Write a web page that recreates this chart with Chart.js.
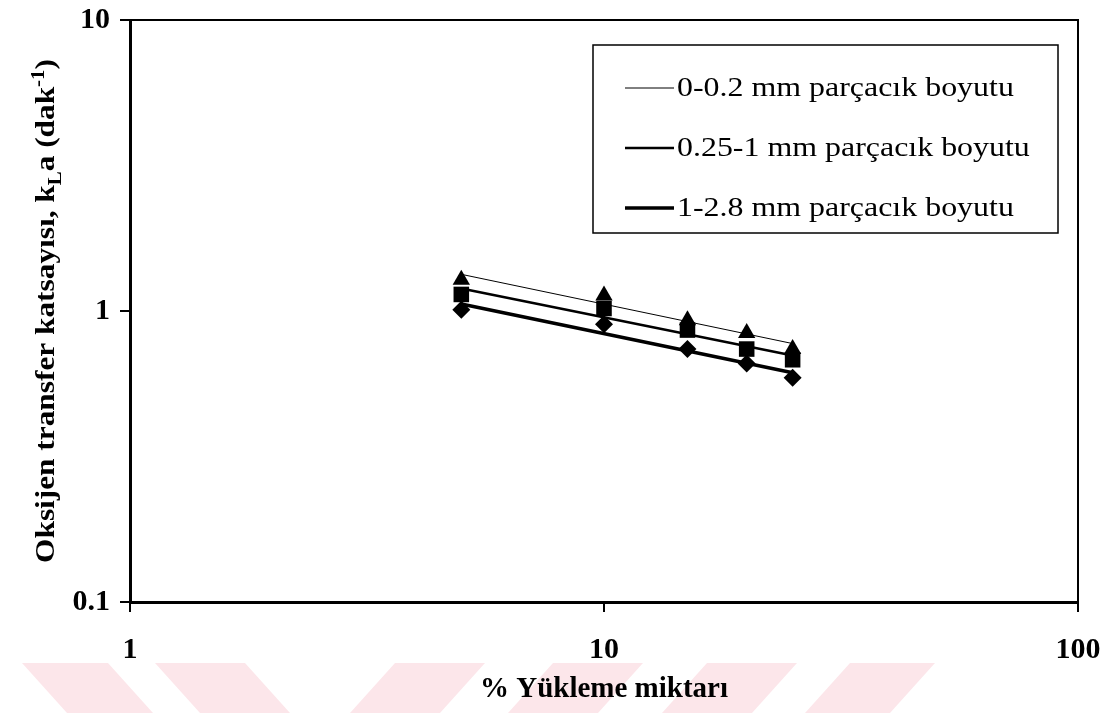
<!DOCTYPE html>
<html>
<head>
<meta charset="utf-8">
<script src="https://cdn.jsdelivr.net/npm/chart.js@4.4.1/dist/chart.umd.min.js"></script>
<style>
    html, body { margin: 0; padding: 0; background: #fff; }
    #wrap { width: 1113px; height: 713px; position: relative; }
</style>
</head>
<body>
<div id="wrap"><canvas id="kla-chart"></canvas></div>
<script>
// --- DATA ---
const loadings = [5, 10, 15, 20, 25];               // % Yükleme miktarı
const klaFine = [1.28, 1.13, 0.93, 0.84, 0.74];     // 0-0.2 mm
const klaMedium = [1.14, 1.02, 0.86, 0.74, 0.68];   // 0.25-1 mm
const klaCoarse = [1.01, 0.90, 0.74, 0.66, 0.59];   // 1-2.8 mm
const seriesLabels = ['0-0.2 mm parçacık boyutu', '0.25-1 mm parçacık boyutu', '1-2.8 mm parçacık boyutu'];
const xTickValues = [1, 10, 100];
const yTickValues = [0.1, 1, 10];

const SERIF = '"Liberation Serif", "Times New Roman", serif';

// power trendline (like Excel), fitted in log-log space
function powerTrend(xs, ys) {
    const lx = xs.map(Math.log10), ly = ys.map(Math.log10);
    const n = xs.length;
    const mx = lx.reduce((a, b) => a + b, 0) / n;
    const my = ly.reduce((a, b) => a + b, 0) / n;
    let sxy = 0, sxx = 0;
    for (let i = 0; i < n; i++) {
        sxy += (lx[i] - mx) * (ly[i] - my);
        sxx += (lx[i] - mx) * (lx[i] - mx);
    }
    const b = sxy / sxx;
    const a = my - b * mx;
    const x0 = Math.min(...xs), x1 = Math.max(...xs);
    return [x0, x1].map(x => ({ x: x, y: Math.pow(10, a + b * Math.log10(x)) }));
}

const toPoints = ys => loadings.map((x, i) => ({ x: x, y: ys[i] }));

// pink watermark band at the bottom of the page
const watermarkPlugin = {
    id: 'watermark',
    beforeDraw(chart) {
        const ctx = chart.ctx;
        const shapes = [
            [[22, 663], [108, 663], [153, 713], [67, 713]],
            [[155, 663], [245, 663], [290, 713], [200, 713]],
            [[395, 663], [485, 663], [440, 713], [350, 713]],
            [[553, 663], [643, 663], [598, 713], [508, 713]],
            [[707, 663], [797, 663], [752, 713], [662, 713]],
            [[850, 663], [935, 663], [890, 713], [805, 713]]
        ];
        ctx.save();
        ctx.fillStyle = '#fce6ea';
        shapes.forEach(s => {
            ctx.beginPath();
            ctx.moveTo(s[0][0], s[0][1]);
            for (let i = 1; i < s.length; i++) ctx.lineTo(s[i][0], s[i][1]);
            ctx.closePath();
            ctx.fill();
        });
        ctx.restore();
    }
};

// top and right frame of the plot area
const framePlugin = {
    id: 'frame',
    afterDatasetsDraw(chart) {
        const { ctx, chartArea: a } = chart;
        ctx.save();
        ctx.strokeStyle = '#000';
        ctx.lineWidth = 2;
        ctx.beginPath();
        ctx.moveTo(a.left, a.top);
        ctx.lineTo(a.right, a.top);
        ctx.lineTo(a.right, a.bottom);
        ctx.stroke();
        ctx.restore();
    }
};

// boxed legend with only the trendlines
const legendBoxPlugin = {
    id: 'legendBox',
    afterDraw(chart) {
        const ctx = chart.ctx;
        const box = { x: 593, y: 45, w: 465, h: 188 };
        ctx.save();
        ctx.fillStyle = '#fff';
        ctx.fillRect(box.x, box.y, box.w, box.h);
        ctx.strokeStyle = '#000';
        ctx.lineWidth = 1.5;
        ctx.strokeRect(box.x, box.y, box.w, box.h);
        ctx.fillStyle = '#000';
        ctx.textBaseline = 'middle';
        const trends = chart.data.datasets.filter(d => d.isTrend);
        trends.forEach((d, i) => {
            const y = box.y + 43 + i * 60;
            ctx.lineWidth = d.borderWidth;
            ctx.beginPath();
            ctx.moveTo(625, y);
            ctx.lineTo(674, y);
            ctx.stroke();
            ctx.save();
            ctx.translate(677, y);
            ctx.scale(1.14, 1);
            ctx.font = '28px ' + SERIF;
            ctx.fillText(d.label, 0, 1);
            ctx.restore();
        });
        ctx.restore();
    }
};

// y axis title with subscript/superscript
const yTitlePlugin = {
    id: 'yTitle',
    afterDraw(chart) {
        const ctx = chart.ctx;
        const a = chart.chartArea;
        const size = 27;
        const parts = [
            { t: 'Oksijen transfer katsayısı, k', s: 1, dy: 0 },
            { t: 'L', s: 0.65, dy: 0.25 },
            { t: 'a (dak', s: 1, dy: 0 },
            { t: '-1', s: 0.65, dy: -0.38 },
            { t: ')', s: 1, dy: 0 }
        ];
        ctx.save();
        ctx.fillStyle = '#000';
        ctx.textBaseline = 'alphabetic';
        let total = 0;
        parts.forEach(p => {
            ctx.font = 'bold ' + Math.round(size * p.s) + 'px ' + SERIF;
            p.w = ctx.measureText(p.t).width;
            total += p.w;
        });
        ctx.translate(54, (a.top + a.bottom) / 2);
        ctx.rotate(-Math.PI / 2);
        ctx.scale(1.16, 1);
        let x = -total / 2;
        parts.forEach(p => {
            ctx.font = 'bold ' + Math.round(size * p.s) + 'px ' + SERIF;
            ctx.fillText(p.t, x, p.dy * size);
            x += p.w;
        });
        ctx.restore();
    }
};

function buildChart() {
    const ctx = document.getElementById('kla-chart').getContext('2d');
    const markerSets = [
        { label: seriesLabels[0], ys: klaFine, style: 'triangle', r: 10, order: 0 },
        { label: seriesLabels[1], ys: klaMedium, style: 'rect', r: 11, order: 1 },
        { label: seriesLabels[2], ys: klaCoarse, style: 'rectRot', r: 9, order: 2 }
    ];
    const trendWidths = [1, 2.5, 3.5];

    const datasets = [];
    markerSets.forEach((m, i) => {
        datasets.push({
            type: 'scatter',
            label: m.label,
            data: toPoints(m.ys),
            pointStyle: m.style,
            pointRadius: m.r,
            backgroundColor: '#000',
            borderColor: '#000',
            borderWidth: 0,
            order: m.order
        });
        datasets.push({
            type: 'line',
            label: m.label,
            isTrend: true,
            data: powerTrend(loadings, m.ys),
            borderColor: '#000',
            borderWidth: trendWidths[i],
            pointRadius: 0,
            fill: false,
            order: 5
        });
    });

    const tickFont = { family: SERIF, size: 30, weight: 'bold' };

    new Chart(ctx, {
        type: 'scatter',
        data: { datasets: datasets },
        options: {
            responsive: true,
            maintainAspectRatio: false,
            devicePixelRatio: 1,
            animation: false,
            layout: { padding: { top: 20, right: 35, left: 0, bottom: 0 } },
            plugins: {
                legend: { display: false },
                tooltip: { enabled: false }
            },
            scales: {
                x: {
                    type: 'logarithmic',
                    min: 1,
                    max: 100,
                    afterBuildTicks: scale => { scale.ticks = xTickValues.map(v => ({ value: v })); },
                    afterFit: scale => {
                        scale.height = 111;
                        scale.paddingLeft = 0;
                        scale.paddingRight = 0;
                    },
                    ticks: {
                        color: '#000',
                        font: tickFont,
                        padding: 20,
                        maxRotation: 0,
                        callback: v => String(v)
                    },
                    grid: { drawOnChartArea: false, drawTicks: true, tickLength: 10, color: '#000', lineWidth: 2 },
                    border: { display: true, color: '#000', width: 3 },
                    title: {
                        display: true,
                        text: '% Yükleme miktarı',
                        color: '#000',
                        font: { family: SERIF, size: 29, weight: 'bold' },
                        padding: { top: 0, bottom: 6 }
                    }
                },
                y: {
                    type: 'logarithmic',
                    min: 0.1,
                    max: 10,
                    afterBuildTicks: scale => { scale.ticks = yTickValues.map(v => ({ value: v })); },
                    afterFit: scale => {
                        scale.width = 130;
                        scale.paddingTop = 0;
                        scale.paddingBottom = 0;
                    },
                    ticks: {
                        color: '#000',
                        font: tickFont,
                        padding: 10,
                        callback: v => String(v)
                    },
                    grid: { drawOnChartArea: false, drawTicks: true, tickLength: 10, color: '#000', lineWidth: 2 },
                    border: { display: true, color: '#000', width: 3 },
                    title: { display: false }
                }
            }
        },
        plugins: [watermarkPlugin, framePlugin, legendBoxPlugin, yTitlePlugin]
    });
}

buildChart();
</script>
</body>
</html>
